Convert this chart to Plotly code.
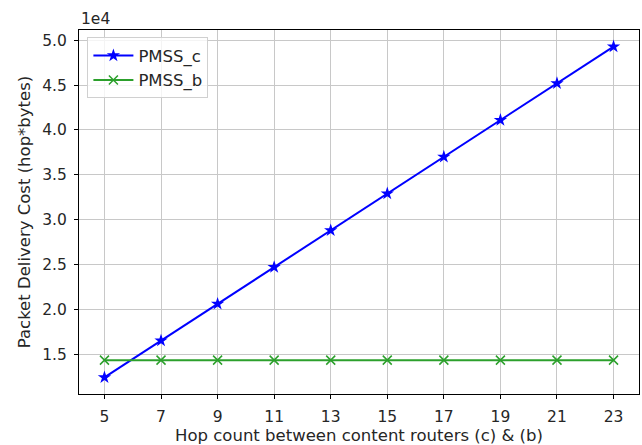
import plotly.graph_objects as go

hops = [5, 7, 9, 11, 13, 15, 17, 19, 21, 23]
pmss_c = [12400, 16500, 20600, 24700, 28800, 32900, 37000, 41100, 45200, 49300]
pmss_b = [14330] * len(hops)

y_tick_vals = [15000, 20000, 25000, 30000, 35000, 40000, 45000, 50000]
y_tick_text = ["1.5", "2.0", "2.5", "3.0", "3.5", "4.0", "4.5", "5.0"]

font = "DejaVu Sans"
text_color = "#262626"

fig = go.Figure()
fig.add_trace(go.Scatter(
    x=hops, y=pmss_c, name="PMSS_c", mode="lines+markers",
    line=dict(color="#0000ff", width=2),
    marker=dict(symbol="star", size=10, color="#0000ff"),
))
fig.add_trace(go.Scatter(
    x=hops, y=pmss_b, name="PMSS_b", mode="lines+markers",
    line=dict(color="#2ca02c", width=2),
    marker=dict(symbol="x-thin", size=9, color="#2ca02c",
                line=dict(color="#2ca02c", width=1.5)),
))

axis_common = dict(
    showgrid=True, gridcolor="#c8c8c8", gridwidth=1,
    showline=True, linecolor="black", linewidth=1, mirror=True,
    ticks="outside", ticklen=4, tickcolor="black", ticklabelstandoff=4,
    tickfont=dict(family=font, size=15.5, color=text_color),
    zeroline=False,
)

fig.update_layout(
    width=642, height=445,
    margin=dict(l=79, r=3, t=30, b=51),
    paper_bgcolor="white", plot_bgcolor="white",
    font=dict(family=font, size=14, color=text_color),
    xaxis=dict(
        range=[4.1, 23.9], tickvals=hops,
        title=dict(text="Hop count between content routers (c) & (b)",
                   font=dict(family=font, size=16.5), standoff=3),
        **axis_common,
    ),
    yaxis=dict(
        range=[10555, 51145], tickvals=y_tick_vals, ticktext=y_tick_text,
        title=dict(text="Packet Delivery Cost (hop*bytes)",
                   font=dict(family=font, size=16.5), standoff=7),
        **axis_common,
    ),
    legend=dict(
        x=0.015, y=0.98, xanchor="left", yanchor="top",
        bgcolor="rgba(255,255,255,0.8)", bordercolor="#d0d0d0", borderwidth=1,
        font=dict(family=font, size=16.5, color=text_color),
        itemwidth=40, tracegroupgap=2,
    ),
    showlegend=True,
)

fig.add_annotation(
    text="1e4", xref="paper", yref="paper", x=0, y=1.0,
    xanchor="left", yanchor="bottom", showarrow=False,
    font=dict(family=font, size=15.5, color=text_color), yshift=0,
)

fig.write_html("out.html")
